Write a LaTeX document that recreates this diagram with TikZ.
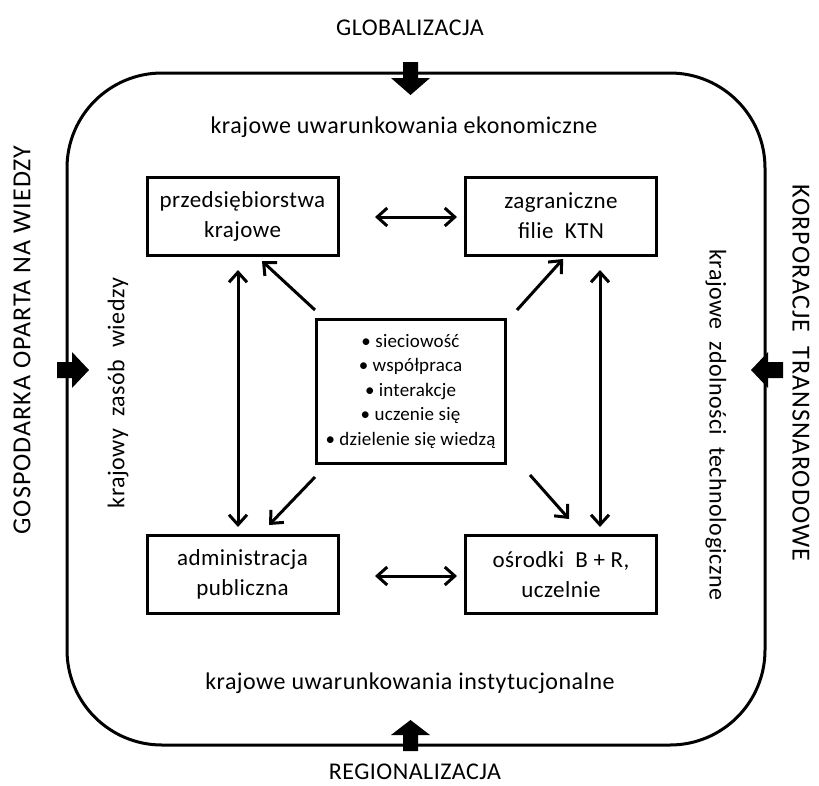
\documentclass[tikz,border=0pt]{standalone}
\usepackage{fontspec}
\setmainfont{Carlito}
\usetikzlibrary{arrows.meta}
\newfontfamily\spaced[LetterSpace=2]{Carlito}
\newfontfamily\spacedw[LetterSpace=4]{Carlito}
\newfontfamily\spacedc[LetterSpace=1]{Carlito}
\tikzset{
  box/.style={draw, line width=3pt, minimum width=191pt, minimum height=78pt, align=center, font=\spaced\fontsize{23}{30}\selectfont, inner sep=0pt},
  lbl/.style={font=\spaced\fontsize{24}{26}\selectfont, inner sep=0pt},
  rlbl/.style={font=\spacedw\fontsize{26}{28}\selectfont, inner sep=0pt},
  conn/.style={line width=3pt, -{Straight Barb[length=10pt,width=18pt,line width=3pt]}},
  dconn/.style={line width=3pt, {Straight Barb[length=10pt,width=18pt,line width=3pt]}-{Straight Barb[length=10pt,width=18pt,line width=3pt]}},
}
\begin{document}
\begin{tikzpicture}[x=1pt,y=-1pt]
\useasboundingbox (0,0) rectangle (819,785);
% outer frame
\draw[line width=3pt, rounded corners=95pt] (67,73) rectangle (765,745);
% block arrows
\fill (403,62) -- (418,62) -- (418,78) -- (430,78) -- (410.5,95) -- (391,78) -- (403,78) -- cycle;
\fill (403,751) -- (418,751) -- (418,735) -- (430,735) -- (410.5,720) -- (391,735) -- (403,735) -- cycle;
\fill (57,362) -- (72,362) -- (72,352) -- (89,370) -- (72,388) -- (72,378) -- (57,378) -- cycle;
\fill (783,362) -- (768,362) -- (768,352) -- (751,370) -- (768,388) -- (768,378) -- (783,378) -- cycle;
% outside labels
\node[lbl] (glob) at (410,28) {GLOBALIZACJA};
\node[lbl] (reg) at (415,772) {REGIONALIZACJA};
\node[rlbl, rotate=90] (gow) at (22,340) {GOSPODARKA OPARTA NA WIEDZY};
\node[rlbl, rotate=-90] (ktn) at (801,373) {KORPORACJE \ TRANSNARODOWE};
% inside labels
\node[lbl] (eko) at (404,127) {krajowe uwarunkowania ekonomiczne};
\node[lbl] (inst) at (410,683) {krajowe uwarunkowania instytucjonalne};
\node[lbl, rotate=90] (zas) at (118,393) {krajowy \ zasób \ wiedzy};
\node[lbl, rotate=-90] (zdol) at (716,425) {krajowe \ zdolności \ technologiczne};
% boxes
\node[box] (pk) at (242.5,216) {przedsiębiorstwa\\krajowe};
\node[box] (zf) at (561,216) {zagraniczne\\filie \ KTN};
\node[box] (ap) at (242.5,574.5) {administracja\\publiczna};
\node[box] (br) at (561,574.5) {ośrodki \ B + R,\\uczelnie};
\node[draw, line width=3pt, minimum width=189pt, minimum height=144pt, align=center, inner sep=0pt, font={\spacedc\fontsize{19}{24.5}\selectfont}] (c) at (410.5,391)
  {• sieciowość\\ • współpraca\\ • interakcje\\ • uczenie się\\ • dzielenie się wiedzą};
% connectors
\coordinate (h1a) at (375,217); \coordinate (h1b) at (457,217);
\draw[dconn] (h1a) -- (h1b);
\coordinate (h2a) at (375,576); \coordinate (h2b) at (457,576);
\draw[dconn] (h2a) -- (h2b);
\coordinate (v1a) at (238,270); \coordinate (v1b) at (238,527);
\draw[dconn] (v1a) -- (v1b);
\coordinate (v2a) at (600,270); \coordinate (v2b) at (600,527);
\draw[dconn] (v2a) -- (v2b);
\coordinate (d1a) at (315,310); \coordinate (d1b) at (262,261);
\draw[conn] (d1a) -- (d1b);
\coordinate (d2a) at (517,310); \coordinate (d2b) at (563,259);
\draw[conn] (d2a) -- (d2b);
\coordinate (d3a) at (315,477); \coordinate (d3b) at (269,525);
\draw[conn] (d3a) -- (d3b);
\coordinate (d4a) at (530,475); \coordinate (d4b) at (569,519);
\draw[conn] (d4a) -- (d4b);
\end{tikzpicture}
\end{document}
